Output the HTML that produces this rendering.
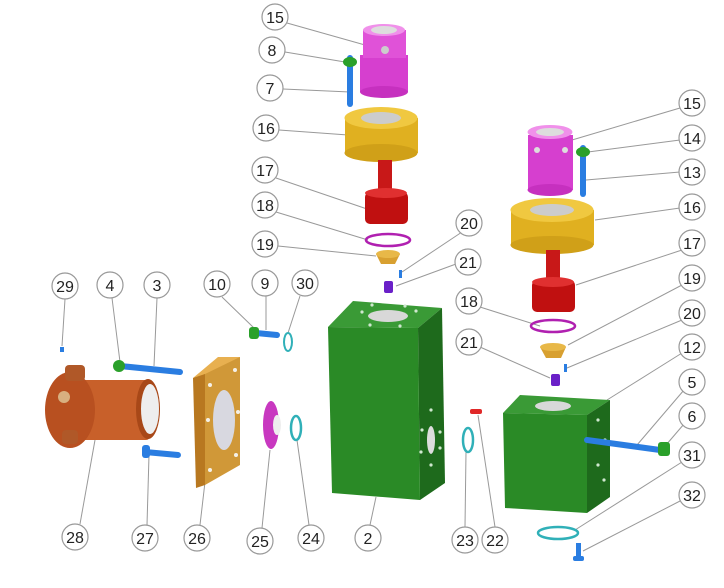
<!DOCTYPE html>
<html><head><meta charset="utf-8"><style>
html,body{margin:0;padding:0;background:#fff}
svg{display:block}
text{font-family:"Liberation Sans",sans-serif;font-size:16px;fill:#222;text-anchor:middle}
.c{fill:#fff;stroke:#999;stroke-width:1.2}
.l{stroke:#999;stroke-width:1;fill:none}
.h{fill:#cfe8cf}
</style></head><body>
<svg width="724" height="588" viewBox="0 0 724 588" xmlns="http://www.w3.org/2000/svg">
<g class="l">
<line x1="287" y1="23" x2="365" y2="45"/>
<line x1="285" y1="52" x2="345" y2="62"/>
<line x1="283" y1="89" x2="350" y2="92"/>
<line x1="279" y1="130" x2="348" y2="135"/>
<line x1="276" y1="178" x2="370" y2="210"/>
<line x1="276" y1="212" x2="368" y2="240"/>
<line x1="278" y1="246" x2="376" y2="256"/>
<line x1="462" y1="232" x2="402" y2="272"/>
<line x1="456" y1="264" x2="396" y2="286"/>
<line x1="680" y1="108" x2="572" y2="140"/>
<line x1="680" y1="140" x2="588" y2="152"/>
<line x1="680" y1="172" x2="586" y2="180"/>
<line x1="680" y1="208" x2="595" y2="220"/>
<line x1="682" y1="250" x2="576" y2="285"/>
<line x1="682" y1="285" x2="568" y2="345"/>
<line x1="682" y1="320" x2="567" y2="368"/>
<line x1="682" y1="353" x2="607" y2="400"/>
<line x1="684" y1="390" x2="637" y2="445"/>
<line x1="684" y1="424" x2="666" y2="445"/>
<line x1="682" y1="462" x2="575" y2="530"/>
<line x1="682" y1="500" x2="583" y2="551"/>
<line x1="480" y1="307" x2="540" y2="326"/>
<line x1="480" y1="347" x2="550" y2="378"/>
<line x1="65" y1="299" x2="62" y2="346"/>
<line x1="112" y1="298" x2="120" y2="362"/>
<line x1="157" y1="298" x2="154" y2="366"/>
<line x1="222" y1="297" x2="254" y2="328"/>
<line x1="266" y1="296" x2="266" y2="330"/>
<line x1="300" y1="296" x2="288" y2="333"/>
<line x1="80" y1="524" x2="95" y2="440"/>
<line x1="147" y1="525" x2="149" y2="455"/>
<line x1="200" y1="525" x2="205" y2="482"/>
<line x1="262" y1="528" x2="270" y2="450"/>
<line x1="309" y1="525" x2="297" y2="440"/>
<line x1="370" y1="525" x2="376" y2="497"/>
<line x1="465" y1="527" x2="466" y2="452"/>
<line x1="495" y1="527" x2="478" y2="415"/>
</g>
<rect x="360" y="55" width="48" height="37" fill="#d63fcf"/>
<rect x="363" y="30" width="43" height="28" fill="#e052d8"/>
<ellipse cx="384" cy="92" rx="24" ry="6" fill="#c630bf"/>
<ellipse cx="384" cy="30" rx="21" ry="6" fill="#f090ea"/>
<ellipse cx="384" cy="30" rx="13" ry="4" fill="#ddd"/>
<circle cx="385" cy="50" r="4" fill="#ccc"/>
<rect x="347" y="55" width="6" height="52" rx="3" fill="#2a7de1"/>
<ellipse cx="350" cy="62" rx="7" ry="5" fill="#2aa02a"/>
<rect x="345" y="118" width="73" height="35" fill="#e0b020"/>
<ellipse cx="381" cy="153" rx="36.5" ry="9" fill="#d0a018"/>
<ellipse cx="381" cy="118" rx="36.5" ry="11" fill="#f0c840"/>
<ellipse cx="381" cy="118" rx="20" ry="6" fill="#ccc"/>
<rect x="378" y="160" width="14" height="35" fill="#c81818"/>
<rect x="365" y="192" width="43" height="32" rx="5" fill="#c01010"/>
<ellipse cx="386" cy="193" rx="21" ry="5" fill="#e03030"/>
<ellipse cx="388" cy="240" rx="22" ry="6" fill="none" stroke="#b020b0" stroke-width="2.5"/>
<path d="M376 254 L400 254 L395 264 L381 264Z" fill="#d8a030"/>
<ellipse cx="388" cy="254" rx="12" ry="4" fill="#e8b848"/>
<rect x="399" y="270" width="3" height="8" fill="#2a7de1"/>
<rect x="384" y="281" width="9" height="12" rx="2" fill="#6a20c8"/>
<!-- main block 2 -->
<polygon points="328,327 353,301 442,308 418,328" fill="#3a9a36"/>
<polygon points="418,328 442,308 445,483 420,500" fill="#1e6a1c"/>
<polygon points="328,327 418,328 420,500 332,493" fill="#2a8a26"/>
<ellipse cx="388" cy="316" rx="20" ry="6" fill="#d8d8d8"/>
<g class="h"><circle cx="362" cy="312" r="1.6"/><circle cx="372" cy="305" r="1.6"/><circle cx="405" cy="306" r="1.6"/><circle cx="416" cy="311" r="1.6"/><circle cx="400" cy="326" r="1.6"/><circle cx="370" cy="325" r="1.6"/>
<circle cx="422" cy="430" r="1.6"/><circle cx="440" cy="432" r="1.6"/><circle cx="421" cy="452" r="1.6"/><circle cx="440" cy="448" r="1.6"/><circle cx="431" cy="410" r="1.6"/><circle cx="431" cy="465" r="1.6"/></g>
<ellipse cx="431" cy="440" rx="4" ry="14" fill="#ddd"/>
<rect x="528" y="135" width="45" height="55" fill="#d63fcf"/>
<ellipse cx="550" cy="190" rx="22.5" ry="6" fill="#c630bf"/>
<ellipse cx="550" cy="132" rx="22.5" ry="7" fill="#f090ea"/>
<ellipse cx="550" cy="132" rx="14" ry="4" fill="#ddd"/>
<circle cx="537" cy="150" r="3" fill="#ddd"/><circle cx="565" cy="150" r="3" fill="#ddd"/>
<rect x="580" y="145" width="6" height="52" rx="3" fill="#2a7de1"/>
<ellipse cx="583" cy="152" rx="7" ry="5" fill="#2aa02a"/>
<rect x="511" y="210" width="83" height="35" fill="#e0b020"/>
<ellipse cx="552" cy="245" rx="41.5" ry="9" fill="#d0a018"/>
<ellipse cx="552" cy="210" rx="41.5" ry="12" fill="#f0c840"/>
<ellipse cx="552" cy="210" rx="22" ry="6" fill="#ccc"/>
<rect x="546" y="250" width="14" height="35" fill="#c81818"/>
<rect x="532" y="280" width="43" height="32" rx="5" fill="#c01010"/>
<ellipse cx="553" cy="282" rx="21" ry="5" fill="#e03030"/>
<ellipse cx="553" cy="326" rx="22" ry="6" fill="none" stroke="#b020b0" stroke-width="2.5"/>
<path d="M540 347 L566 347 L561 358 L546 358Z" fill="#d8a030"/>
<ellipse cx="553" cy="347" rx="13" ry="4" fill="#e8b848"/>
<rect x="564" y="364" width="3" height="8" fill="#2a7de1"/>
<rect x="551" y="374" width="9" height="12" rx="2" fill="#6a20c8"/>
<polygon points="503,413 520,395 610,400 587,415" fill="#3a9a36"/>
<polygon points="587,415 610,400 610,497 587,513" fill="#1e6a1c"/>
<polygon points="503,413 587,415 587,513 505,508" fill="#2a8a26"/>
<ellipse cx="553" cy="406" rx="18" ry="5" fill="#d8d8d8"/>
<g class="h"><circle cx="598" cy="420" r="1.6"/><circle cx="598" cy="465" r="1.6"/><circle cx="605" cy="440" r="1.6"/><circle cx="604" cy="480" r="1.6"/></g>
<line x1="587" y1="440" x2="660" y2="450" stroke="#2a7de1" stroke-width="6" stroke-linecap="round"/>
<rect x="658" y="442" width="12" height="14" rx="3" fill="#2aa02a"/>
<ellipse cx="558" cy="533" rx="20" ry="6" fill="none" stroke="#30b0b8" stroke-width="2.5"/>
<rect x="576" y="543" width="5" height="16" fill="#2a7de1"/><rect x="573" y="556" width="11" height="5" rx="2" fill="#2a7de1"/>
<rect x="470" y="409" width="12" height="5" rx="2" fill="#e02828"/>
<ellipse cx="468" cy="440" rx="5" ry="12" fill="none" stroke="#30b0b8" stroke-width="2.5"/>
<ellipse cx="296" cy="428" rx="5" ry="12" fill="none" stroke="#30b0b8" stroke-width="2.5"/>
<ellipse cx="271" cy="425" rx="8" ry="24" fill="#c838c0"/>
<ellipse cx="277" cy="425" rx="4" ry="10" fill="#eee"/>
<ellipse cx="288" cy="342" rx="4" ry="9" fill="none" stroke="#30b0b8" stroke-width="2"/>
<line x1="256" y1="333" x2="277" y2="335" stroke="#2a7de1" stroke-width="6" stroke-linecap="round"/>
<rect x="249" y="327" width="10" height="12" rx="3" fill="#2aa02a"/>
<!-- plate 26 -->
<polygon points="193,378 218,357 240,357 215,378" fill="#e8b050"/>
<polygon points="203,375 240,357 240,465 205,485" fill="#d09838"/>
<polygon points="193,378 205,374 205,485 196,488" fill="#b87820"/>
<ellipse cx="224" cy="420" rx="11" ry="30" fill="#d8d8e0"/>
<g fill="#f4f0e8"><circle cx="210" cy="385" r="2"/><circle cx="235" cy="370" r="2"/><circle cx="210" cy="470" r="2"/><circle cx="236" cy="455" r="2"/><circle cx="208" cy="420" r="2"/><circle cx="238" cy="412" r="2"/></g>
<line x1="120" y1="366" x2="180" y2="372" stroke="#2a7de1" stroke-width="6" stroke-linecap="round"/>
<circle cx="119" cy="366" r="6" fill="#2aa02a"/>
<line x1="145" y1="452" x2="178" y2="455" stroke="#2a7de1" stroke-width="6" stroke-linecap="round"/>
<rect x="142" y="445" width="8" height="13" rx="3" fill="#2a7de1"/>
<rect x="60" y="347" width="4" height="5" fill="#2a7de1"/>
<rect x="70" y="380" width="80" height="60" rx="4" fill="#c8602a"/>
<ellipse cx="70" cy="410" rx="25" ry="38" fill="#b85020"/>
<ellipse cx="148" cy="409" rx="12" ry="30" fill="#a84818"/>
<ellipse cx="150" cy="409" rx="9" ry="25" fill="#eee"/>
<rect x="65" y="365" width="20" height="16" rx="4" fill="#b05828"/>
<circle cx="64" cy="397" r="6" fill="#d8b080"/>
<rect x="62" y="430" width="16" height="14" rx="4" fill="#b05828"/>
<g>
<g><circle class="c" cx="275" cy="17" r="13"/><text x="275" y="23">15</text></g>
<g><circle class="c" cx="272" cy="50" r="13"/><text x="272" y="56">8</text></g>
<g><circle class="c" cx="270" cy="88" r="13"/><text x="270" y="94">7</text></g>
<g><circle class="c" cx="266" cy="128" r="13"/><text x="266" y="134">16</text></g>
<g><circle class="c" cx="265" cy="170" r="13"/><text x="265" y="176">17</text></g>
<g><circle class="c" cx="265" cy="205" r="13"/><text x="265" y="211">18</text></g>
<g><circle class="c" cx="265" cy="244" r="13"/><text x="265" y="250">19</text></g>
<g><circle class="c" cx="469" cy="223" r="13"/><text x="469" y="229">20</text></g>
<g><circle class="c" cx="468" cy="262" r="13"/><text x="468" y="268">21</text></g>
<g><circle class="c" cx="692" cy="103" r="13"/><text x="692" y="109">15</text></g>
<g><circle class="c" cx="692" cy="138" r="13"/><text x="692" y="144">14</text></g>
<g><circle class="c" cx="692" cy="172" r="13"/><text x="692" y="178">13</text></g>
<g><circle class="c" cx="692" cy="207" r="13"/><text x="692" y="213">16</text></g>
<g><circle class="c" cx="692" cy="243" r="13"/><text x="692" y="249">17</text></g>
<g><circle class="c" cx="692" cy="278" r="13"/><text x="692" y="284">19</text></g>
<g><circle class="c" cx="692" cy="313" r="13"/><text x="692" y="319">20</text></g>
<g><circle class="c" cx="692" cy="347" r="13"/><text x="692" y="353">12</text></g>
<g><circle class="c" cx="692" cy="382" r="13"/><text x="692" y="388">5</text></g>
<g><circle class="c" cx="692" cy="416" r="13"/><text x="692" y="422">6</text></g>
<g><circle class="c" cx="692" cy="455" r="13"/><text x="692" y="461">31</text></g>
<g><circle class="c" cx="692" cy="495" r="13"/><text x="692" y="501">32</text></g>
<g><circle class="c" cx="469" cy="301" r="13"/><text x="469" y="307">18</text></g>
<g><circle class="c" cx="469" cy="342" r="13"/><text x="469" y="348">21</text></g>
<g><circle class="c" cx="495" cy="540" r="13"/><text x="495" y="546">22</text></g>
<g><circle class="c" cx="465" cy="540" r="13"/><text x="465" y="546">23</text></g>
<g><circle class="c" cx="75" cy="537" r="13"/><text x="75" y="543">28</text></g>
<g><circle class="c" cx="145" cy="538" r="13"/><text x="145" y="544">27</text></g>
<g><circle class="c" cx="197" cy="538" r="13"/><text x="197" y="544">26</text></g>
<g><circle class="c" cx="260" cy="541" r="13"/><text x="260" y="547">25</text></g>
<g><circle class="c" cx="311" cy="538" r="13"/><text x="311" y="544">24</text></g>
<g><circle class="c" cx="368" cy="538" r="13"/><text x="368" y="544">2</text></g>
<g><circle class="c" cx="65" cy="286" r="13"/><text x="65" y="292">29</text></g>
<g><circle class="c" cx="110" cy="285" r="13"/><text x="110" y="291">4</text></g>
<g><circle class="c" cx="157" cy="285" r="13"/><text x="157" y="291">3</text></g>
<g><circle class="c" cx="217" cy="284" r="13"/><text x="217" y="290">10</text></g>
<g><circle class="c" cx="265" cy="283" r="13"/><text x="265" y="289">9</text></g>
<g><circle class="c" cx="305" cy="283" r="13"/><text x="305" y="289">30</text></g>
</g>
</svg>
</body></html>
